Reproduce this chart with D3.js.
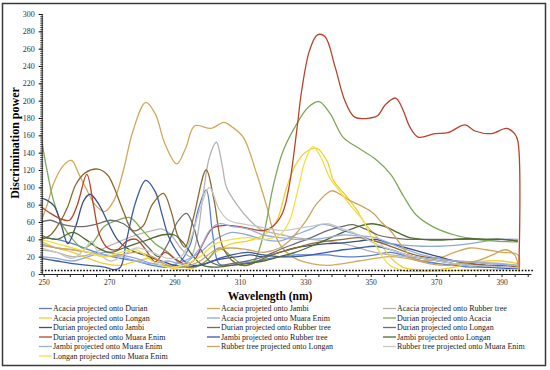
<!DOCTYPE html>
<html><head><meta charset="utf-8">
<script src="https://cdn.jsdelivr.net/npm/d3@7"></script>
<style>body{margin:0;background:#fff}svg{display:block}text{font-family:"Liberation Serif","Times New Roman",serif}</style>
</head><body><svg id="c" width="550" height="370"></svg>
<script>
const seriesNames = [
 "Acacia projected onto Durian","Acacia projeted onto Jambi","Acacia projected onto Rubber tree",
 "Acacia projected onto Longan","Acacia projeted onto Muara Enim","Durian projected onto Acacia",
 "Durian projected onto Jambi","Durian projected onto Rubber tree","Durian projected onto Longan",
 "Durian projected onto Muara Enim","Jambi projected onto Rubber tree","Jambi projected onto Longan",
 "Jambi projected onto Muara Enim","Rubber tree projected onto Longan","Rubber tree projected onto Muara Enim",
 "Longan projected onto Muara Enim"];
const seriesColors = ["#5b7fcc","#d2a85a","#b4b4b4","#f0d030","#8ea9db","#7fa95a","#3d4f86","#8b6a2e",
 "#6e6e6e","#b8432a","#3a5ba5","#4f6b2e","#9aaee3","#c9a65e","#c8c8c8","#f3e040"];
const xTickLabels = [250,270,290,310,330,350,370,390];
const yTickLabels = [0,20,40,60,80,100,120,140,160,180,200,220,240,260,280,300];
const thresholdValue = 4;

// [wavelength nm, discrimination power]
const acaciaDurian = [[249.1,42],[254,40],[258.9,35],[263.7,28],[268.6,22],[273.5,18],[278.3,15],[283.2,10],[288,8],[291.9,15],[294.9,35],[297.3,75],[299.7,97],[301.7,45],[303.6,12],[306.5,10],[310.4,12],[315.3,15],[319.2,18],[323,20],[326.9,22],[331.8,22],[336.7,22],[341.5,20],[346.4,20],[351.3,22],[356.1,25],[361,20],[365.8,15],[370.7,12],[375.6,10],[380.4,8],[385.3,8],[390.1,7],[395,6]];
const acaciaJambi = [[249.1,60],[251.1,80],[253,104],[256,125],[258.5,131],[260.8,115],[262.8,100],[265.7,80],[268.6,72],[271.5,85],[274.4,120],[277.3,165],[281.2,198],[284.1,185],[287.1,150],[290.7,127],[293.4,145],[296.2,171],[301.2,168],[305.1,175],[307.5,170],[311,158],[315.1,116],[318.2,78],[320.1,51],[323,30],[326.9,18],[331.8,12],[336.7,10],[341.5,12],[346.4,15],[351.3,18],[356.1,20],[361,18],[365.8,15],[370.7,18],[375.6,25],[380.4,30],[385.3,28],[390.1,25],[395,22],[395.3,3]];
const acaciaRubber = [[249.1,28],[254,25],[258.9,20],[263.7,22],[268.6,30],[273.5,38],[278.3,45],[283.2,50],[286.1,52],[289,45],[291.9,30],[294.9,20],[296.8,40],[298.7,90],[300.7,135],[302.8,152],[304.6,125],[305.9,100],[308.9,81],[313,62],[316.1,52],[319.2,48],[323,45],[326.9,42],[331.8,40],[336.7,38],[341.5,35],[346.4,30],[351.3,25],[356.1,22],[361,20],[365.8,18],[370.7,16],[375.6,15],[380.4,14],[385.3,13],[390.1,12],[395,10]];
const acaciaLongan = [[249.1,38],[254,30],[258.9,25],[263.7,18],[268.6,12],[273.5,10],[278.3,15],[283.2,18],[288,8],[292.9,5],[297.8,10],[302.6,25],[307.5,35],[312.3,38],[317.2,45],[321.1,60],[324.3,100],[326.9,125],[329.9,140],[333.5,145],[336.7,130],[338.6,108],[342.5,90],[345.7,74],[348.3,58],[351.8,43],[355.8,20],[359.8,8],[363.9,5],[370.7,5],[375.6,8],[380.4,12],[385.3,15],[390.1,15],[395,12]];
const acaciaMuara = [[249.1,20],[254,18],[258.9,15],[263.7,20],[268.6,25],[273.5,22],[278.3,18],[283.2,12],[288,10],[292.9,15],[297.8,25],[302.6,40],[307.5,48],[312.3,45],[317.2,40],[322.1,38],[326.9,45],[331.8,52],[334.7,57],[337.6,56],[341.5,50],[346.4,45],[351.3,38],[356.1,35],[361,33],[365.8,32],[370.7,32],[375.6,33],[380.4,35],[385.3,38],[390.1,40],[395,40]];
const durianAcacia = [[249.1,160],[251.1,118],[253,85],[256,55],[258.9,40],[261.8,30],[264.7,35],[268.6,55],[272.5,62],[276.4,65],[280.3,50],[284.1,35],[288,25],[291.9,12],[295.8,8],[299.7,15],[303.6,30],[307.5,20],[311.4,10],[314.3,15],[317.2,45],[320.1,100],[323,140],[326.9,170],[330.8,192],[334.2,199],[337.6,185],[341.5,158],[346.4,145],[351.3,133],[356.1,115],[360,90],[363.9,68],[368.8,55],[375.6,45],[382.4,40],[388.2,38],[395,37]];
const durianJambi = [[249.1,88],[251.1,85],[253.3,78],[255.5,55],[257.4,35],[259.8,55],[262.3,85],[264.2,92],[266.6,82],[269.6,60],[272.5,40],[275.4,30],[278.3,25],[282.2,20],[286.1,15],[290,10],[293.9,8],[297.8,10],[301.7,15],[305.5,18],[309.4,20],[313.3,22],[317.2,20],[322.1,25],[326.9,30],[331.8,33],[336.7,35],[341.5,36],[346.4,38],[351.3,40],[356.1,35],[361,30],[365.8,25],[370.7,20],[375.6,15],[380.4,12],[385.3,10],[390.1,8],[395,7]];
const durianRubber = [[249.1,40],[252.1,45],[255,60],[257.4,78],[259.8,103],[262.8,117],[266.6,121],[269.6,114],[271.5,100],[274.4,72],[277.3,50],[280.3,55],[283.2,80],[286.6,93],[289,72],[290.9,45],[293.2,31],[295.8,65],[299.7,120],[302.1,85],[304.9,30],[308.9,12],[312.3,10],[317.2,18],[322.1,25],[326.9,30],[331.8,35],[336.7,38],[341.5,40],[346.4,42],[351.3,38],[356.1,32],[361,25],[365.8,20],[370.7,18],[375.6,15],[380.4,12],[385.3,10],[390.1,10],[395,8]];
const durianLongan = [[249.1,60],[252.1,62],[255,58],[258.9,55],[262.8,55],[266.6,58],[270.5,62],[274.4,58],[278.3,45],[282.2,30],[285.1,20],[288,35],[290.9,60],[293.7,70],[295.8,55],[297.8,30],[300.7,15],[303.6,10],[307.5,12],[312.3,15],[317.2,20],[322.1,28],[326.9,35],[331.8,42],[336.7,50],[341.5,55],[344.4,57],[348.3,52],[352.2,45],[356.1,42],[361,40],[365.8,40],[370.7,40],[375.6,40],[380.4,40],[385.3,40],[390.1,40],[395,38]];
const durianMuara = [[249.1,78],[252.1,70],[255,64],[257.9,62],[260.3,80],[263.2,115],[265.2,80],[267.1,45],[269.6,30],[272.5,28],[275.4,38],[278.3,40],[281.2,28],[284.1,14],[287.1,25],[290,18],[292.9,12],[295.8,15],[298.7,35],[301.7,53],[305.5,56],[309.4,55],[313.3,52],[317.2,50],[320.1,55],[323,70],[325,100],[327.4,166],[328.9,212],[331.3,258],[333.7,276],[336,274],[339.1,239],[342.1,200],[345.1,181],[349.8,180],[352.2,183],[354.4,195],[357.6,203],[359.9,189],[361.9,170],[364.5,158],[369.7,162],[373.6,163],[378.8,172],[381.9,165],[386.9,162],[391.5,168],[394,162],[395,153],[395.3,5]];
const jambiRubber = [[249.1,18],[254,15],[258.9,12],[263.7,10],[268.6,8],[271.5,5],[273.5,8],[275.4,40],[278.3,85],[281.2,108],[284.1,95],[286.1,70],[288,45],[290,30],[292.9,15],[295.8,10],[299.7,12],[303.6,18],[307.5,22],[312.3,25],[317.2,22],[322.1,20],[326.9,20],[331.8,22],[336.7,25],[341.5,28],[346.4,30],[351.3,32],[356.1,28],[361,22],[365.8,18],[370.7,15],[375.6,12],[380.4,10],[385.3,8],[390.1,7],[395,6]];
const jambiLongan = [[249.1,45],[254,40],[258.9,48],[262.8,40],[266.6,30],[270.5,25],[274.4,30],[278.3,35],[282.2,40],[286.1,45],[290,45],[292.9,35],[295.8,20],[298.7,10],[302.6,8],[307.5,10],[312.3,12],[317.2,15],[322.1,20],[326.9,25],[331.8,32],[336.7,40],[341.5,48],[346.4,55],[350.3,58],[354.2,55],[358.1,48],[361.9,42],[365.8,40],[370.7,39],[375.6,40],[380.4,41],[385.3,40],[390.1,40],[395,38]];
const jambiMuara = [[249.1,35],[254,30],[258.9,28],[263.7,25],[268.6,22],[273.5,20],[278.3,15],[283.2,12],[288,15],[292.9,12],[297.8,30],[300.7,50],[303.6,58],[307.5,55],[312.3,52],[317.2,45],[322.1,42],[326.9,40],[331.8,40],[336.7,42],[341.5,45],[346.4,44],[351.3,42],[356.1,35],[361,28],[365.8,22],[370.7,18],[375.6,15],[380.4,14],[385.3,12],[390.1,11],[395,10]];
const rubberLongan = [[249.1,33],[254,30],[258.9,28],[263.7,25],[268.6,20],[273.5,22],[278.3,25],[283.2,20],[288,10],[292.9,8],[297.8,15],[302.6,28],[307.5,30],[312.3,28],[317.2,25],[322.1,30],[325.3,39],[327.9,50],[330.3,62],[333.7,82],[338,96],[340.6,92],[343.5,85],[347.4,78],[350.8,70],[353.2,60],[355.8,51],[359.8,31],[362.9,18],[367.8,12],[372.7,10],[377.5,12],[382.4,15],[387.2,22],[391.1,28],[394,22],[395.3,3]];
const rubberMuara = [[249.1,30],[254,25],[258.9,18],[262.8,30],[264.7,38],[266.6,25],[270.5,15],[274.4,22],[278.3,30],[283.2,25],[288,18],[291.9,20],[294.9,40],[297.8,75],[300.7,100],[303.6,75],[306.5,62],[310.4,58],[315.3,55],[319.2,52],[323,50],[326.9,52],[331.8,55],[336.7,58],[341.5,52],[346.4,45],[351.3,35],[356.1,28],[361,22],[365.8,18],[370.7,15],[375.6,12],[380.4,10],[385.3,9],[390.1,8],[395,7]];
const longanMuara = [[249.1,40],[254,35],[258.9,30],[263.7,25],[268.6,20],[273.5,25],[278.3,28],[283.2,15],[288,8],[292.9,10],[297.8,20],[302.6,35],[307.5,40],[312.3,42],[317.2,40],[322.1,45],[325,60],[327.9,100],[329.9,130],[332.3,147],[334.7,135],[337.6,110],[340.6,95],[344,78],[347.6,62],[351.8,31],[355.8,10],[360,4],[365.8,3],[375.6,4],[385.3,5],[395,5]];

const seriesData = [acaciaDurian,acaciaJambi,acaciaRubber,acaciaLongan,acaciaMuara,durianAcacia,durianJambi,
 durianRubber,durianLongan,durianMuara,jambiRubber,jambiLongan,jambiMuara,rubberLongan,rubberMuara,longanMuara];

const svg = d3.select("#c");
svg.append("rect").attr("x",2.5).attr("y",3.5).attr("width",543).attr("height",362)
  .attr("fill","#fff").attr("stroke","#3a3a3a").attr("stroke-width",1.5);

const x = d3.scaleLinear().domain([249.4,399]).range([41.7,531]);
const y = d3.scaleLinear().domain([0,300]).range([274,14]);

svg.append("defs").append("clipPath").attr("id","clip").append("rect")
  .attr("x",41.7).attr("y",10).attr("width",490).attr("height",264);

// series
const line = d3.line().x(d=>x(d[0])).y(d=>y(d[1])).curve(d3.curveCatmullRom.alpha(0.5));
const g = svg.append("g").attr("clip-path","url(#clip)");
seriesData.forEach((s,i)=>{
  g.append("path").attr("d",line(s)).attr("fill","none")
   .attr("stroke",seriesColors[i]).attr("stroke-width",1.3);
});

// threshold dotted line
svg.append("line").attr("x1",41.7).attr("x2",533).attr("y1",y(thresholdValue)).attr("y2",y(thresholdValue))
  .attr("stroke","#000").attr("stroke-width",1.6).attr("stroke-dasharray","1.6,1.6");

// y axis
const yAxis = d3.axisLeft(y).tickValues(yTickLabels).tickSize(3).tickSizeOuter(0).tickPadding(4);
const ya = svg.append("g").attr("transform","translate(41.7,0)").call(yAxis);
ya.select(".domain").attr("stroke","#222");
ya.selectAll("text").attr("font-size",8).attr("fill","#333").attr("font-family","Liberation Serif");
const yMinor = d3.axisLeft(y).tickValues(d3.range(0,301,2.5)).tickSize(3).tickFormat("");
svg.append("g").attr("transform","translate(43.2,0)").call(yMinor)
  .call(a=>a.select(".domain").remove()).selectAll("line").attr("stroke","#222").attr("stroke-width",0.8);

// x axis
const xAxis = d3.axisBottom(x).tickValues(xTickLabels).tickSize(0).tickSizeOuter(0).tickPadding(6);
const xa = svg.append("g").attr("transform","translate(0,274)").call(xAxis);
xa.select(".domain").attr("stroke","#222");
xa.selectAll("text").attr("font-size",7.5).attr("fill","#333").attr("font-family","Liberation Serif");
const xMinor = d3.axisBottom(x).tickValues(d3.range(250,399,4)).tickSize(3).tickFormat("");
svg.append("g").attr("transform","translate(0,274)").call(xMinor)
  .call(a=>a.select(".domain").remove()).selectAll("line").attr("stroke","#222");

// titles
svg.append("text").attr("x",270).attr("y",299.5).attr("text-anchor","middle")
  .attr("font-size",11.5).attr("font-weight","bold").text("Wavelength (nm)");
svg.append("text").attr("transform","translate(19,143) rotate(-90)").attr("text-anchor","middle")
  .attr("font-size",12).attr("font-weight","bold").text("Discrimination power");

// legend
const colX = [39,207,383];
seriesNames.forEach((n,i)=>{
  const cx = colX[i%3], cy = 308.5 + Math.floor(i/3)*9.5;
  svg.append("line").attr("x1",cx).attr("x2",cx+13).attr("y1",cy).attr("y2",cy)
    .attr("stroke",seriesColors[i]).attr("stroke-width",1.3);
  svg.append("text").attr("x",cx+14).attr("y",cy+2.8).attr("font-size",8).attr("fill","#222").text(n);
});
</script></body></html>
